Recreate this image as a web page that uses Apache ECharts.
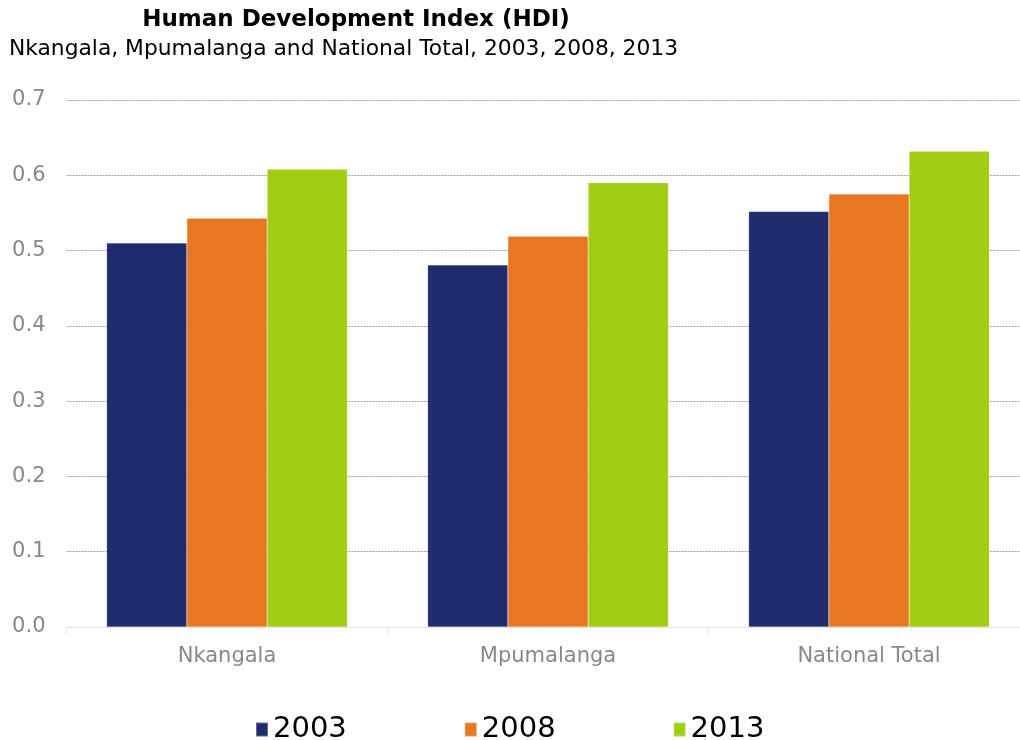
<!DOCTYPE html>
<html><head><meta charset="utf-8">
<script src="https://cdn.jsdelivr.net/npm/echarts@6/dist/echarts.min.js"></script>
<style>html,body{margin:0;padding:0;background:#fff}#c{width:1020px;height:740px}</style>
</head><body><div id="c"></div>
<script>
const categories = ['Nkangala', 'Mpumalanga', 'National Total'];
const seriesNames = ['2003', '2008', '2013'];
const hdi2003 = [0.510, 0.481, 0.552];
const hdi2008 = [0.543, 0.519, 0.575];
const hdi2013 = [0.608, 0.590, 0.632];
const colors = ['#1F2D6E', '#E87722', '#A2CD15'];
const values = [hdi2003, hdi2008, hdi2013];

const chart = echarts.init(document.getElementById('c'));
chart.setOption({
  animation: false,
  textStyle: { fontFamily: 'DejaVu Sans' },
  title: [{
    text: 'Human Development Index (HDI)',
    left: 356, textAlign: 'center', top: 9, padding: 0,
    textStyle: { fontSize: 23, fontWeight: 'bold', color: '#000', fontFamily: 'DejaVu Sans' }
  }, {
    text: 'Nkangala, Mpumalanga and National Total, 2003, 2008, 2013',
    left: 343.5, textAlign: 'center', top: 38, padding: 0,
    textStyle: { fontSize: 21.8, fontWeight: 'normal', color: '#000', fontFamily: 'DejaVu Sans' }
  }],
  legend: {
    top: 715, left: 255, itemGap: 117, itemWidth: 12, itemHeight: 14,
    icon: 'rect', padding: 0,
    textStyle: { fontSize: 29, color: '#000', fontFamily: 'DejaVu Sans', padding: [0,0,0,0] },
    data: seriesNames
  },
  grid: { left: 66.5, width: 963, top: 100, height: 527, outerBoundsMode: 'none', containLabel: false },
  xAxis: {
    type: 'category', data: categories,
    axisLine: { lineStyle: { color: '#e4e4e4' } },
    axisTick: { show: true, length: 7, lineStyle: { color: '#e4e4e4' } },
    axisLabel: { color: '#888', fontSize: 21, margin: 19 }
  },
  yAxis: {
    type: 'value', min: 0, max: 0.7, interval: 0.1,
    axisLine: { show: false }, axisTick: { show: false },
    splitLine: { lineStyle: { color: '#a0a0a0', type: [2, 1], width: 1 } },
    axisLabel: { color: '#888', fontSize: 21, margin: 21, formatter: v => v.toFixed(1) }
  },
  series: seriesNames.map((n, i) => ({
    name: n, type: 'bar', data: values[i],
    barGap: '0%', barCategoryGap: '25%',
    itemStyle: { color: colors[i], borderColor: 'rgba(255,255,255,0.3)', borderWidth: 0.5 }
  }))
});
</script></body></html>
